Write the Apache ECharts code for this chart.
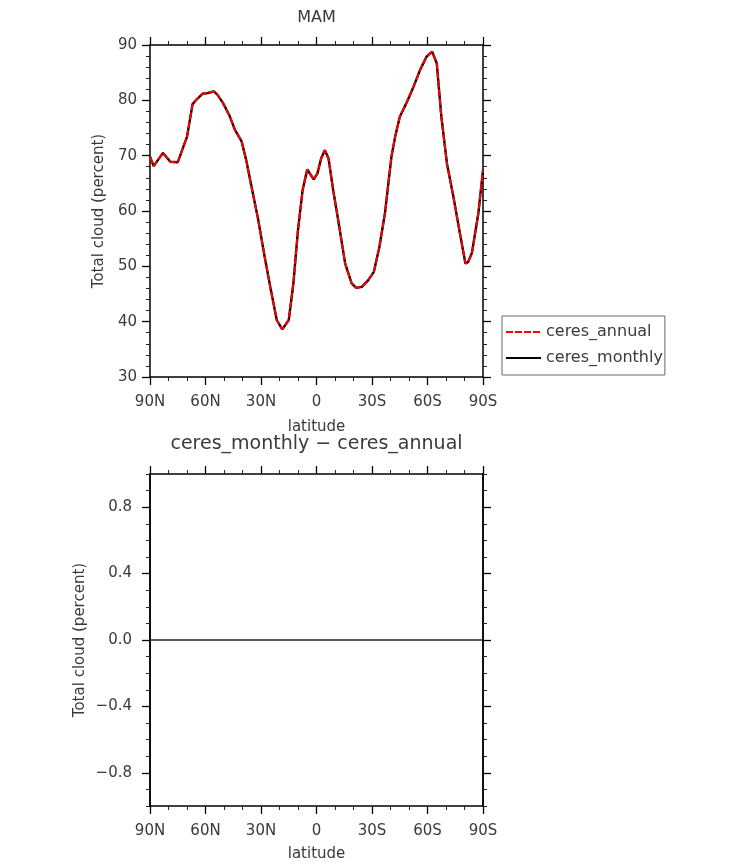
<!DOCTYPE html>
<html>
<head>
<meta charset="utf-8">
<script src="https://cdn.jsdelivr.net/npm/echarts@6/dist/echarts.min.js"></script>
<style>html,body{margin:0;padding:0;background:#fff;}#c{width:733px;height:866px;}</style>
</head>
<body>
<div id="c"></div>
<script>
// Latitude (degrees, + = N, - = S)
const lats = [90, 88, 83, 79, 75, 72, 70, 67, 65, 61.5, 59, 55.5, 53.5, 50.5, 47, 44, 40.5, 38, 35.5, 31.5, 28, 25, 21.5, 18.5, 15, 12.5, 10, 7.5, 5, 1.5, -0.5, -2.5, -4.5, -6.5, -9, -12, -15.5, -19, -21.5, -24.5, -28, -31, -34, -37, -40.5, -42.5, -45, -49, -52.5, -56, -59.5, -62.5, -63.5, -65, -67.5, -70.5, -74, -77.5, -80.5, -82, -84, -87.5, -90];
// Total cloud (percent), MAM
const ceresAnnual = [69.8, 68.1, 70.5, 68.9, 68.8, 71.6, 73.4, 79.3, 80.1, 81.2, 81.3, 81.6, 81.0, 79.5, 77.2, 74.6, 72.6, 69.2, 65.0, 58.4, 51.7, 46.3, 40.3, 38.6, 40.3, 46.9, 56.6, 63.8, 67.5, 65.7, 66.8, 69.5, 71.0, 69.5, 63.8, 57.8, 50.5, 46.9, 46.1, 46.3, 47.5, 49.0, 53.5, 59.6, 69.8, 73.4, 77.0, 79.8, 82.5, 85.5, 87.9, 88.8, 88.7, 86.7, 77.0, 68.6, 62.6, 56.0, 50.5, 50.8, 52.4, 59.6, 67.4];
const ceresMonthly = [69.8, 68.1, 70.5, 68.9, 68.8, 71.6, 73.4, 79.3, 80.1, 81.2, 81.3, 81.6, 81.0, 79.5, 77.2, 74.6, 72.6, 69.2, 65.0, 58.4, 51.7, 46.3, 40.3, 38.6, 40.3, 46.9, 56.6, 63.8, 67.5, 65.7, 66.8, 69.5, 71.0, 69.5, 63.8, 57.8, 50.5, 46.9, 46.1, 46.3, 47.5, 49.0, 53.5, 59.6, 69.8, 73.4, 77.0, 79.8, 82.5, 85.5, 87.9, 88.8, 88.7, 86.7, 77.0, 68.6, 62.6, 56.0, 50.5, 50.8, 52.4, 59.6, 67.4];
const diffTicks = [-0.8, -0.4, 0, 0.4, 0.8];
const seriesNames = ['ceres_annual', 'ceres_monthly'];
const mainTitle = 'MAM';
const diffTitle = 'ceres_monthly \u2212 ceres_annual';
const yName = 'Total cloud (percent)';
const xName = 'latitude';

const FONT = 'DejaVu Sans';
const TXT = '#3a3a3a';
const diff = ceresMonthly.map((v, i) => v - ceresAnnual[i]);

function latFmt(v) {
  if (v > 0) return v + 'N';
  if (v < 0) return (-v) + 'S';
  return '0';
}
function numFmt(v) {
  const s = Math.abs(v).toFixed(1);
  return v < -1e-9 ? '\u2212' + s : s;
}

const lineAx = { show: true, onZero: false, lineStyle: { color: '#000', width: 1.5 } };
function xAx(grid, pos, labels) {
  return {
    type: 'value', gridIndex: grid, position: pos, min: -90, max: 90, interval: 30, inverse: true,
    axisLine: lineAx,
    axisTick: { show: true, inside: false, length: 8, lineStyle: { color: '#000', width: 1.3 } },
    minorTick: { show: true, splitNumber: 3, length: 4, lineStyle: { color: '#222', width: 1 } },
    splitLine: { show: false },
    axisLabel: { show: labels, formatter: latFmt, margin: 18, fontFamily: FONT, fontSize: 15, color: TXT },
    name: labels ? xName : '', nameLocation: 'middle', nameGap: grid === 0 ? 43 : 41,
    nameTextStyle: { fontFamily: FONT, fontSize: 15, color: TXT }
  };
}

const option = {
  animation: false,
  backgroundColor: '#fff',
  graphic: [
    { type: 'text', x: 316.5, y: 18, style: { text: mainTitle, textAlign: 'center', textVerticalAlign: 'middle', fontFamily: FONT, fontSize: 16, fill: TXT } },
    { type: 'text', x: 316.5, y: 444, style: { text: diffTitle, textAlign: 'center', textVerticalAlign: 'middle', fontFamily: FONT, fontSize: 19, fill: TXT } }
  ],
  legend: {
    data: seriesNames, orient: 'vertical', left: 502, top: 316,
    borderColor: '#666', borderWidth: 1, borderRadius: 0,
    padding: [8, 2, 9, 3], itemWidth: 35, itemHeight: 14, itemGap: 10,
    itemStyle: { opacity: 0, borderWidth: 0 },
    textStyle: { fontFamily: FONT, fontSize: 16, color: TXT }
  },
  grid: [
    { left: 150, top: 45, width: 333, height: 332 },
    { left: 150, top: 474, width: 333, height: 332 }
  ],
  xAxis: [xAx(0, 'bottom', true), xAx(0, 'top', false), xAx(1, 'bottom', true), xAx(1, 'top', false)],
  yAxis: [
    {
      type: 'value', gridIndex: 0, position: 'left', min: 30, max: 90, interval: 10,
      axisLine: lineAx,
      axisTick: { show: true, length: 8, lineStyle: { color: '#000', width: 1.3 } },
      minorTick: { show: true, splitNumber: 5, length: 4, lineStyle: { color: '#222', width: 1 } },
      splitLine: { show: false },
      axisLabel: { margin: 13, fontFamily: FONT, fontSize: 15, color: TXT },
      name: yName, nameLocation: 'middle', nameGap: 43, nameRotate: 90,
      nameTextStyle: { fontFamily: FONT, fontSize: 15, color: TXT }
    },
    {
      type: 'value', gridIndex: 0, position: 'right', min: 30, max: 90, interval: 10,
      axisLine: lineAx,
      axisTick: { show: true, length: 8, lineStyle: { color: '#000', width: 1.3 } },
      minorTick: { show: true, splitNumber: 5, length: 4, lineStyle: { color: '#222', width: 1 } },
      splitLine: { show: false }, axisLabel: { show: false }
    },
    {
      type: 'value', gridIndex: 1, position: 'left', min: -1, max: 1, interval: 0.1,
      axisLine: lineAx,
      axisTick: { show: true, length: 4, lineStyle: { color: '#222', width: 1 } },
      splitLine: { show: false }, axisLabel: { show: false }
    },
    {
      type: 'value', gridIndex: 1, position: 'left', min: -1, max: 1,
      axisLine: lineAx,
      axisTick: { show: true, length: 8, customValues: diffTicks, lineStyle: { color: '#000', width: 1.3 } },
      splitLine: { show: false },
      axisLabel: { customValues: diffTicks, formatter: numFmt, margin: 18, fontFamily: FONT, fontSize: 15, color: TXT },
      name: yName, nameLocation: 'middle', nameGap: 62, nameRotate: 90,
      nameTextStyle: { fontFamily: FONT, fontSize: 15, color: TXT }
    },
    {
      type: 'value', gridIndex: 1, position: 'right', min: -1, max: 1, interval: 0.1,
      axisLine: lineAx,
      axisTick: { show: true, length: 4, lineStyle: { color: '#222', width: 1 } },
      splitLine: { show: false }, axisLabel: { show: false }
    },
    {
      type: 'value', gridIndex: 1, position: 'right', min: -1, max: 1,
      axisLine: lineAx,
      axisTick: { show: true, length: 8, customValues: diffTicks, lineStyle: { color: '#000', width: 1.3 } },
      splitLine: { show: false }, axisLabel: { show: false, customValues: diffTicks }
    }
  ],
  series: [
    {
      name: seriesNames[1], type: 'line', xAxisIndex: 0, yAxisIndex: 0,
      data: lats.map((l, i) => [l, ceresMonthly[i]]),
      symbol: 'none', showSymbol: false, smooth: false,
      lineStyle: { color: '#000', width: 2.4, type: 'solid' }, itemStyle: { color: '#000' }, z: 2
    },
    {
      name: seriesNames[0], type: 'line', xAxisIndex: 0, yAxisIndex: 0,
      data: lats.map((l, i) => [l, ceresAnnual[i]]),
      symbol: 'none', showSymbol: false, smooth: false,
      lineStyle: { color: '#ff0000', width: 2, type: [7, 2] }, itemStyle: { color: '#ff0000' }, z: 3
    },
    {
      name: 'difference', type: 'line', xAxisIndex: 2, yAxisIndex: 3,
      data: lats.map((l, i) => [l, diff[i]]),
      symbol: 'none', showSymbol: false, smooth: false,
      lineStyle: { color: '#222', width: 1.5 }, itemStyle: { color: '#222' }
    }
  ]
};

const chart = echarts.init(document.getElementById('c'), null, { renderer: 'canvas' });
chart.setOption(option);
</script>
</body>
</html>
